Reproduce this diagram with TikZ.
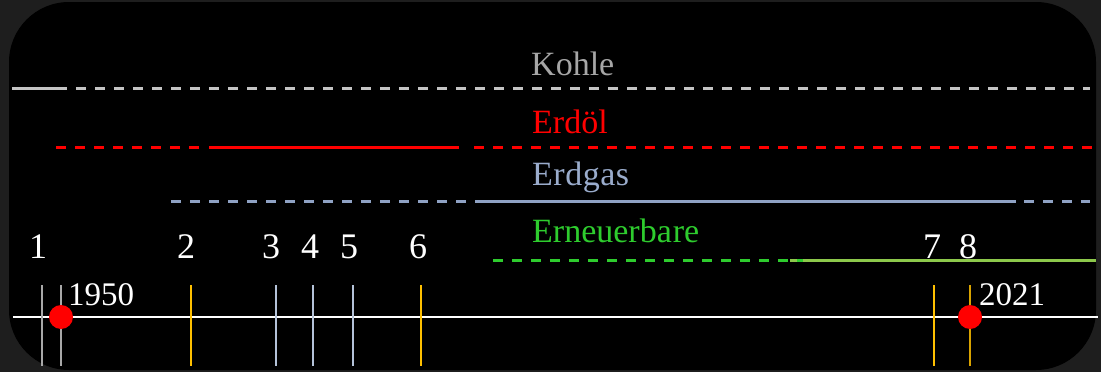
\documentclass[tikz,border=0pt]{standalone}
\usepackage{fontspec}
\setmainfont{Liberation Serif}
\definecolor{bgout}{HTML}{1E1E1E}
\definecolor{kohle}{HTML}{C4C4C4}
\definecolor{kohletxt}{HTML}{A6A6A6}
\definecolor{oel}{HTML}{FF0000}
\definecolor{gas}{HTML}{8FA2C4}
\definecolor{gastxt}{HTML}{9AACCC}
\definecolor{gruen}{HTML}{2ECC2E}
\definecolor{gelbgruen}{HTML}{8CC84B}
\definecolor{gold}{HTML}{FFC000}
\definecolor{golddark}{HTML}{D9A300}
\definecolor{tickgray}{HTML}{A8A8A8}
\definecolor{tickblue}{HTML}{B4C2D8}
\begin{document}
\begin{tikzpicture}[x=1pt,y=-1pt,
  seg/.style={line width=3pt},
  dsh/.style={line width=3pt,dash pattern=on 10pt off 9pt},
  tick/.style={line width=2.2pt},
  lbl/.style={inner sep=0pt,font=\fontsize{34}{36}\selectfont},
  num/.style={inner sep=0pt,text=white,font=\fontsize{36}{38}\selectfont},
  year/.style={inner sep=0pt,text=white,font=\fontsize{33}{35}\selectfont},
  dot/.style={circle,fill=red,minimum size=24pt,inner sep=0pt}]
\useasboundingbox (0,0) rectangle (1101,372);
\fill[bgout] (0,0) rectangle (1101,372);
\fill[black,rounded corners=60pt] (9,2) rectangle (1096,370);

% Kohle
\coordinate (k0) at (12,88); \coordinate (k1) at (57,88); \coordinate (k2) at (1090,88);
\draw[seg,kohle] (k0) -- (k1);
\draw[dsh,kohle] (k1) -- (k2);
\node[lbl,text=kohletxt,anchor=base west] (tk) at (531,75) {Kohle};

% Erdoel
\coordinate (o0) at (56,147); \coordinate (o1) at (207,147); \coordinate (o2) at (209,147);
\coordinate (o3) at (459,147); \coordinate (o4) at (474,147); \coordinate (o5) at (1093,147);
\draw[dsh,oel] (o0) -- (o1);
\draw[seg,oel] (o2) -- (o3);
\draw[dsh,oel] (o4) -- (o5);
\node[lbl,text=oel,anchor=base west] (to) at (532,133) {Erdöl};

% Erdgas
\coordinate (g0) at (171,201); \coordinate (g1) at (481,201); \coordinate (g2) at (1016,201);
\coordinate (g3) at (1024,201); \coordinate (g4) at (1090,201);
\draw[dsh,gas] (g0) -- (g1);
\draw[seg,gas] (g1) -- (g2);
\draw[dsh,gas] (g3) -- (g4);
\node[lbl,text=gastxt,anchor=base west] (tg) at (532,185) {E\kern0.5pt r\kern0.5pt d\kern0.5pt g\kern0.5pt a\kern0.5pt s};

% Erneuerbare
\coordinate (e0) at (493,260); \coordinate (e1) at (803,260); \coordinate (e2) at (790,260);
\coordinate (e3) at (1096,260);
\draw[seg,gelbgruen] (e2) -- (e3);
\draw[dsh,gruen] (e0) -- (e1);
\node[lbl,text=gruen,anchor=base west] (te) at (532,242) {Erneuerba\kern1pt re};

% timeline
\coordinate (t0) at (13,317); \coordinate (t1) at (1098,317);
\draw[line width=2.4pt,white] (t0) -- (t1);

% ticks
\foreach \x/\c in {42/tickgray,61/tickgray,191/gold,276/tickblue,313/tickblue,353/tickblue,421/gold,934/gold,970/golddark}{
  \draw[tick,\c] (\x,285) -- (\x,366);
}

% numbers
\node[num,anchor=base] (n1) at (38,258) {1};
\node[num,anchor=base] (n2) at (186,258) {2};
\node[num,anchor=base] (n3) at (271,258) {3};
\node[num,anchor=base] (n4) at (310,258) {4};
\node[num,anchor=base] (n5) at (349,258) {5};
\node[num,anchor=base] (n6) at (418,258) {6};
\node[num,anchor=base] (n7) at (932,258) {7};
\node[num,anchor=base] (n8) at (968,258) {8};

% years
\node[year,anchor=base west] (y1) at (68,305) {1950};
\node[year,anchor=base west] (y2) at (979,305) {2021};

% dots
\node[dot] (d1) at (61,317) {};
\node[dot] (d2) at (970,317) {};
\end{tikzpicture}
\end{document}
